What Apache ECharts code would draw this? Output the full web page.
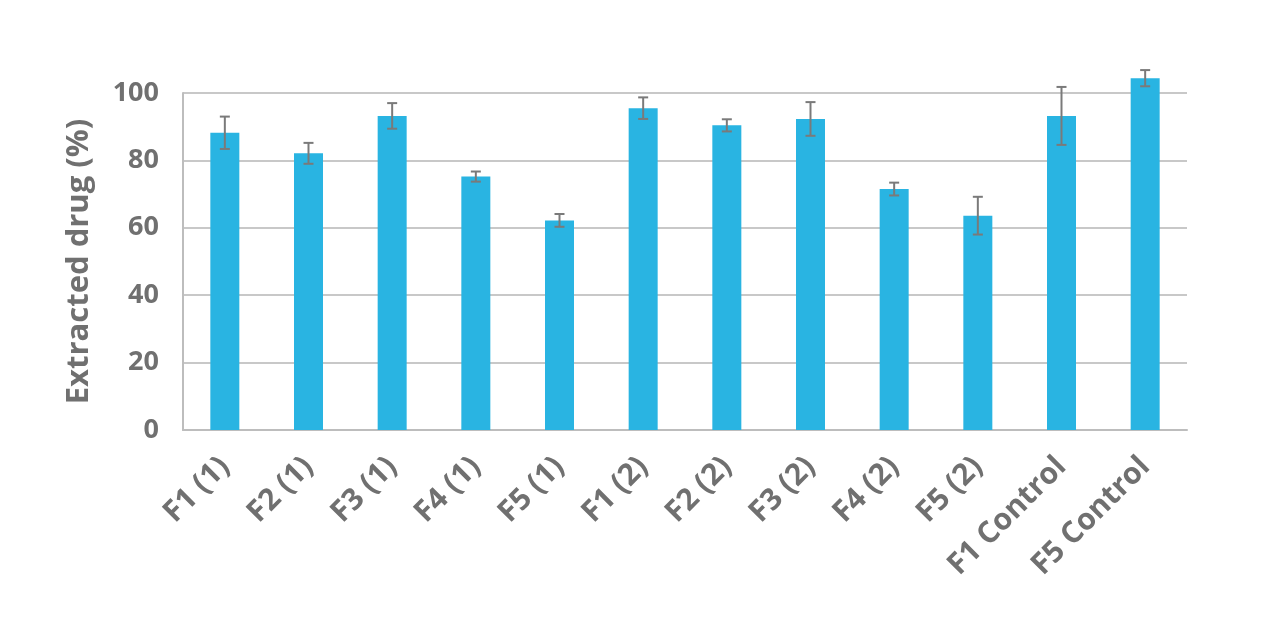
<!DOCTYPE html>
<html>
<head>
<meta charset="utf-8">
<script src="https://cdn.jsdelivr.net/npm/echarts@6/dist/echarts.min.js"></script>
<style>
  html, body { margin: 0; padding: 0; background: #fff; }
  #chart { width: 1280px; height: 623px; }
</style>
</head>
<body>
<div id="chart"></div>
<script>
const categories = ['F1 (1)', 'F2 (1)', 'F3 (1)', 'F4 (1)', 'F5 (1)', 'F1 (2)', 'F2 (2)', 'F3 (2)', 'F4 (2)', 'F5 (2)', 'F1 Control', 'F5 Control'];
const extracted = [88.2, 82.1, 93.2, 75.2, 62.2, 95.5, 90.4, 92.3, 71.5, 63.6, 93.2, 104.4];
const errors = [4.8, 3.1, 3.8, 1.5, 1.9, 3.2, 1.8, 5.0, 1.9, 5.6, 8.6, 2.4];
const yTicks = [0, 20, 40, 60, 80, 100];

const grey = '#707070';
const barColor = '#29b4e2';

const errorData = extracted.map((v, i) => [i, v - errors[i], v + errors[i]]);

const option = {
  animation: false,
  grid: { left: 183, right: 93, top: 93, bottom: 193 },
  xAxis: {
    type: 'category',
    data: categories,
    axisLine: { lineStyle: { color: '#bdbdbd', width: 2 } },
    axisTick: { show: false },
    axisLabel: {
      interval: 0,
      rotate: 45,
      margin: 32,
      color: grey,
      fontFamily: 'Open Sans',
      fontWeight: 700,
      fontSize: 30
    }
  },
  yAxis: {
    type: 'value',
    min: yTicks[0],
    max: yTicks[yTicks.length - 1],
    interval: 20,
    name: 'Extracted drug (%)',
    nameLocation: 'middle',
    nameGap: 88,
    nameTextStyle: { color: grey, fontFamily: 'Open Sans', fontWeight: 700, fontSize: 31 },
    axisLine: { show: true, lineStyle: { color: '#bdbdbd', width: 2 } },
    axisTick: { show: false },
    splitLine: { lineStyle: { color: '#c8c8c8', width: 2 } },
    axisLabel: {
      margin: 24,
      color: grey,
      fontFamily: 'Open Sans',
      fontWeight: 700,
      fontSize: 27
    }
  },
  series: [
    {
      type: 'bar',
      data: extracted,
      barWidth: 29,
      clip: false,
      itemStyle: { color: barColor }
    },
    {
      type: 'custom',
      clip: false,
      data: errorData,
      z: 5,
      renderItem: function (params, api) {
        const lo = api.coord([api.value(0), api.value(1)]);
        const hi = api.coord([api.value(0), api.value(2)]);
        const w = 5;
        const style = { stroke: '#7a7a7a', lineWidth: 2 };
        return {
          type: 'group',
          children: [
            { type: 'line', shape: { x1: hi[0], y1: hi[1], x2: lo[0], y2: lo[1] }, style: style },
            { type: 'line', shape: { x1: hi[0] - w, y1: hi[1], x2: hi[0] + w, y2: hi[1] }, style: style },
            { type: 'line', shape: { x1: lo[0] - w, y1: lo[1], x2: lo[0] + w, y2: lo[1] }, style: style }
          ]
        };
      }
    }
  ]
};

const myChart = echarts.init(document.getElementById('chart'));
myChart.setOption(option);
</script>
</body>
</html>
